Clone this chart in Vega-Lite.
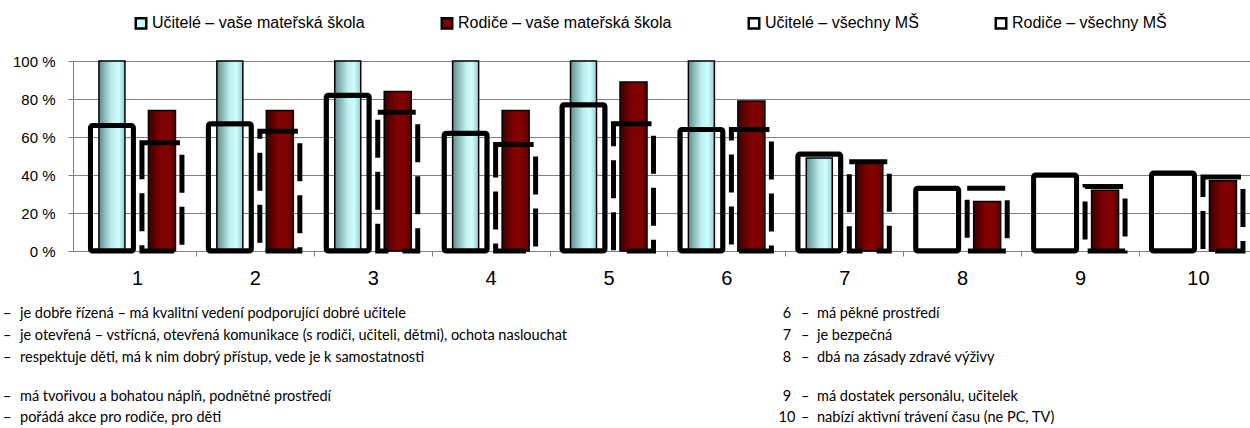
{
  "$schema": "https://vega.github.io/schema/vega-lite/v6.json",
  "background": "white",
  "padding": {"left": 3, "top": 15, "right": 0, "bottom": 0},
  "config": {"view": {"stroke": null}},
  "spacing": 18,
  "datasets": {
    "bars": [
      {"item": 1, "series": "Učitelé – vaše mateřská škola", "value": 100},
      {"item": 1, "series": "Rodiče – vaše mateřská škola", "value": 74},
      {"item": 1, "series": "Učitelé – všechny MŠ", "value": 66},
      {"item": 1, "series": "Rodiče – všechny MŠ", "value": 57},
      {"item": 2, "series": "Učitelé – vaše mateřská škola", "value": 100},
      {"item": 2, "series": "Rodiče – vaše mateřská škola", "value": 74},
      {"item": 2, "series": "Učitelé – všechny MŠ", "value": 67},
      {"item": 2, "series": "Rodiče – všechny MŠ", "value": 63},
      {"item": 3, "series": "Učitelé – vaše mateřská škola", "value": 100},
      {"item": 3, "series": "Rodiče – vaše mateřská škola", "value": 84},
      {"item": 3, "series": "Učitelé – všechny MŠ", "value": 82},
      {"item": 3, "series": "Rodiče – všechny MŠ", "value": 73},
      {"item": 4, "series": "Učitelé – vaše mateřská škola", "value": 100},
      {"item": 4, "series": "Rodiče – vaše mateřská škola", "value": 74},
      {"item": 4, "series": "Učitelé – všechny MŠ", "value": 62},
      {"item": 4, "series": "Rodiče – všechny MŠ", "value": 56},
      {"item": 5, "series": "Učitelé – vaše mateřská škola", "value": 100},
      {"item": 5, "series": "Rodiče – vaše mateřská škola", "value": 89},
      {"item": 5, "series": "Učitelé – všechny MŠ", "value": 77},
      {"item": 5, "series": "Rodiče – všechny MŠ", "value": 67},
      {"item": 6, "series": "Učitelé – vaše mateřská škola", "value": 100},
      {"item": 6, "series": "Rodiče – vaše mateřská škola", "value": 79},
      {"item": 6, "series": "Učitelé – všechny MŠ", "value": 64},
      {"item": 6, "series": "Rodiče – všechny MŠ", "value": 64},
      {"item": 7, "series": "Učitelé – vaše mateřská škola", "value": 49},
      {"item": 7, "series": "Rodiče – vaše mateřská škola", "value": 47},
      {"item": 7, "series": "Učitelé – všechny MŠ", "value": 51},
      {"item": 7, "series": "Rodiče – všechny MŠ", "value": 47},
      {"item": 8, "series": "Rodiče – vaše mateřská škola", "value": 26},
      {"item": 8, "series": "Učitelé – všechny MŠ", "value": 33},
      {"item": 8, "series": "Rodiče – všechny MŠ", "value": 33},
      {"item": 9, "series": "Rodiče – vaše mateřská škola", "value": 32},
      {"item": 9, "series": "Učitelé – všechny MŠ", "value": 40},
      {"item": 9, "series": "Rodiče – všechny MŠ", "value": 34},
      {"item": 10, "series": "Rodiče – vaše mateřská škola", "value": 37},
      {"item": 10, "series": "Učitelé – všechny MŠ", "value": 41},
      {"item": 10, "series": "Rodiče – všechny MŠ", "value": 39}
    ],
    "key": [
      {"item": 1, "col": "L", "row": 1, "desc": "je dobře řízená – má kvalitní vedení podporující dobré učitele"},
      {"item": 2, "col": "L", "row": 2, "desc": "je otevřená – vstřícná, otevřená komunikace (s rodiči, učiteli, dětmi), ochota naslouchat"},
      {"item": 3, "col": "L", "row": 3, "desc": "respektuje děti, má k nim dobrý přístup, vede je k samostatnosti"},
      {"item": 4, "col": "L", "row": 4, "desc": "má tvořivou a bohatou náplň, podnětné prostředí"},
      {"item": 5, "col": "L", "row": 5, "desc": "pořádá akce pro rodiče, pro děti"},
      {"item": 6, "col": "R", "row": 1, "desc": "má pěkné prostředí"},
      {"item": 7, "col": "R", "row": 2, "desc": "je bezpečná"},
      {"item": 8, "col": "R", "row": 3, "desc": "dbá na zásady zdravé výživy"},
      {"item": 9, "col": "R", "row": 4, "desc": "má dostatek personálu, učitelek"},
      {"item": 10, "col": "R", "row": 5, "desc": "nabízí aktivní trávení času (ne PC, TV)"}
    ]
  },
  "vconcat": [
    {
      "width": 1177,
      "height": 190,
      "data": {"name": "bars"},
      "layer": [
        {
          "transform": [{"filter": "datum.value < 0"}],
          "mark": {"type": "square", "stroke": "black", "strokeWidth": 2.5},
          "encoding": {
            "fill": {
              "field": "series", "type": "nominal",
              "scale": {
                "domain": ["Učitelé – vaše mateřská škola", "Rodiče – vaše mateřská škola", "Učitelé – všechny MŠ", "Rodiče – všechny MŠ"],
                "range": ["#ccffff", "#800000", "white", "white"]
              },
              "legend": {
                "orient": "none", "legendX": 60, "legendY": -46, "direction": "horizontal", "columns": 4,
                "title": null, "symbolType": "square", "symbolSize": 110, "symbolStrokeWidth": 2.5,
                "symbolStrokeColor": "black", "symbolOpacity": 1, "labelFont": "Liberation Sans",
                "labelFontSize": 16, "labelColor": "black", "labelOffset": 3, "columnPadding": 71, "padding": 0,
                "labelLimit": 400
              }
            }
          }
        },
        {
          "transform": [{"filter": "datum.series === 'Učitelé – vaše mateřská škola'"}],
          "mark": {
            "type": "bar", "width": 26, "xOffset": -25, "stroke": "black", "strokeWidth": 1.5,
            "fill": {"gradient": "linear", "x1": 0, "y1": 0, "x2": 1, "y2": 0,
              "stops": [{"offset": 0, "color": "#5f8f8f"}, {"offset": 0.5, "color": "#bfeeee"}, {"offset": 0.75, "color": "#ccffff"}, {"offset": 1, "color": "#99cccc"}]}
          },
          "encoding": {
            "x": {"field": "item", "type": "quantitative", "scale": {"domain": [0.5, 10.399], "nice": false, "zero": false},
              "axis": {"orient": "bottom", "values": [1,2,3,4,5,6,7,8,9,10], "ticks": false, "domain": false, "grid": false, "title": null,
                "labelFont": "Liberation Sans", "labelFontSize": 20, "labelColor": "black", "labelPadding": 17}},
            "y": {"field": "value", "type": "quantitative", "scale": {"domain": [0, 100], "nice": false},
              "axis": {"orient": "left", "values": [0,20,40,60,80,100], "labelExpr": "datum.value + ' %'", "title": null,
                "labelFont": "Liberation Sans", "labelFontSize": 15, "labelColor": "black", "labelPadding": 13,
                "tickSize": 5, "tickColor": "#808080", "domainColor": "#808080", "domainWidth": 1,
                "grid": true, "gridColor": "#808080", "gridWidth": 1, "minExtent": 70}}
          }
        },
        {
          "transform": [{"filter": "datum.series === 'Rodiče – vaše mateřská škola'"}],
          "mark": {
            "type": "bar", "width": 27, "xOffset": 25, "stroke": "black", "strokeWidth": 1.5,
            "fill": {"gradient": "linear", "x1": 0, "y1": 0, "x2": 1, "y2": 0,
              "stops": [{"offset": 0, "color": "#3a0000"}, {"offset": 0.45, "color": "#800000"}, {"offset": 0.75, "color": "#800000"}, {"offset": 1, "color": "#5c0000"}]}
          },
          "encoding": {
            "x": {"field": "item", "type": "quantitative",
              "axis": {"orient": "bottom", "values": [1.5,2.5,3.5,4.5,5.5,6.5,7.5,8.5,9.5], "labels": false, "domain": false, "grid": false, "title": null,
                "ticks": true, "tickSize": 5, "tickColor": "#808080"}},
            "y": {"field": "value", "type": "quantitative", "axis": null}
          }
        },
        {
          "transform": [{"filter": "datum.series === 'Učitelé – všechny MŠ'"}],
          "mark": {"type": "bar", "width": 43, "xOffset": -25, "filled": false, "stroke": "black", "strokeWidth": 5, "cornerRadius": 2},
          "encoding": {
            "x": {"field": "item", "type": "quantitative", "axis": null},
            "y": {"field": "value", "type": "quantitative", "axis": null}
          }
        },
        {
          "transform": [{"filter": "datum.series === 'Rodiče – všechny MŠ'"}],
          "mark": {"type": "bar", "width": 40, "xOffset": 25, "filled": false, "stroke": "black", "strokeWidth": 5, "strokeDash": [38, 14]},
          "encoding": {
            "x": {"field": "item", "type": "quantitative", "axis": null},
            "y": {"field": "value", "type": "quantitative", "axis": null}
          }
        }
      ],
      "resolve": {"axis": {"x": "independent", "y": "independent"}}
    },
    {
      "spacing": 24,
      "resolve": {"scale": {"x": "independent", "y": "independent"}},
      "vconcat": [
        {
          "width": 710,
          "height": 44,
          "data": {"name": "key"},
          "transform": [{"filter": "datum.row <= 3"}],
          "encoding": {
            "x": {"field": "col", "type": "nominal", "scale": {"type": "point", "domain": ["L", "R"], "padding": 0}, "axis": null},
            "y": {"field": "row", "type": "ordinal", "scale": {"type": "point", "domain": [1, 2, 3], "padding": 0}, "axis": null}
          },
          "layer": [
            {
              "transform": [{"filter": "datum.col === 'R'"}],
              "mark": {"type": "text", "align": "center", "baseline": "middle", "font": "Lato", "fontSize": 14.5, "color": "black", "dx": 4},
              "encoding": {"text": {"field": "item"}}
            },
            {
              "transform": [{"filter": "datum.col === 'L'"}],
              "mark": {"type": "text", "align": "left", "baseline": "middle", "font": "Lato", "fontSize": 14.5, "color": "black", "dx": -70},
              "encoding": {"text": {"value": "–"}}
            },
            {
              "transform": [{"filter": "datum.col === 'R'"}],
              "mark": {"type": "text", "align": "left", "baseline": "middle", "font": "Lato", "fontSize": 14.5, "color": "black", "dx": 18},
              "encoding": {"text": {"value": "–"}}
            },
            {
              "transform": [{"filter": "datum.col === 'L'"}],
              "mark": {"type": "text", "align": "left", "baseline": "middle", "font": "Lato", "fontSize": 14.5, "color": "black", "dx": -53},
              "encoding": {"text": {"field": "desc"}}
            },
            {
              "transform": [{"filter": "datum.col === 'R'"}],
              "mark": {"type": "text", "align": "left", "baseline": "middle", "font": "Lato", "fontSize": 14.5, "color": "black", "dx": 34},
              "encoding": {"text": {"field": "desc"}}
            }
          ]
        },
        {
          "width": 710,
          "height": 21,
          "data": {"name": "key"},
          "transform": [{"filter": "datum.row >= 4"}],
          "encoding": {
            "x": {"field": "col", "type": "nominal", "scale": {"type": "point", "domain": ["L", "R"], "padding": 0}, "axis": null},
            "y": {"field": "row", "type": "ordinal", "scale": {"type": "point", "domain": [4, 5], "padding": 0}, "axis": null}
          },
          "layer": [
            {
              "transform": [{"filter": "datum.col === 'R'"}],
              "mark": {"type": "text", "align": "center", "baseline": "middle", "font": "Lato", "fontSize": 14.5, "color": "black", "dx": 4},
              "encoding": {"text": {"field": "item"}}
            },
            {
              "transform": [{"filter": "datum.col === 'L'"}],
              "mark": {"type": "text", "align": "left", "baseline": "middle", "font": "Lato", "fontSize": 14.5, "color": "black", "dx": -70},
              "encoding": {"text": {"value": "–"}}
            },
            {
              "transform": [{"filter": "datum.col === 'R'"}],
              "mark": {"type": "text", "align": "left", "baseline": "middle", "font": "Lato", "fontSize": 14.5, "color": "black", "dx": 18},
              "encoding": {"text": {"value": "–"}}
            },
            {
              "transform": [{"filter": "datum.col === 'L'"}],
              "mark": {"type": "text", "align": "left", "baseline": "middle", "font": "Lato", "fontSize": 14.5, "color": "black", "dx": -53},
              "encoding": {"text": {"field": "desc"}}
            },
            {
              "transform": [{"filter": "datum.col === 'R'"}],
              "mark": {"type": "text", "align": "left", "baseline": "middle", "font": "Lato", "fontSize": 14.5, "color": "black", "dx": 34},
              "encoding": {"text": {"field": "desc"}}
            }
          ]
        }
      ]
    }
  ]
}
